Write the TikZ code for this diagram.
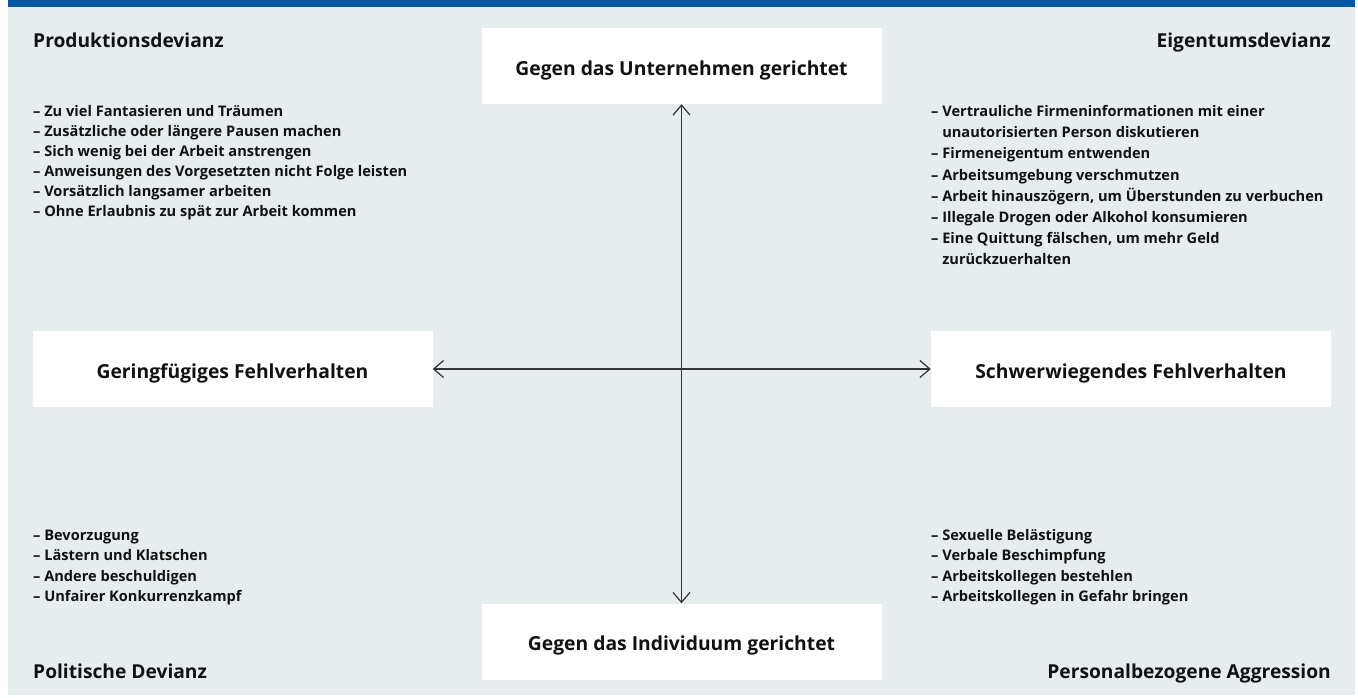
\documentclass[tikz,border=0pt]{standalone}
\usepackage{fontspec}
\setmainfont{Open Sans}
\usetikzlibrary{arrows.meta}
\definecolor{bg}{HTML}{E7ECEF}
\definecolor{bluebar}{HTML}{0356A6}
\definecolor{ink}{HTML}{111111}
\definecolor{axiscol}{HTML}{333333}
\begin{document}
\begin{tikzpicture}[x=1pt,y=-1pt,
  box/.style={fill=white, minimum width=400pt, minimum height=76pt, inner sep=0pt,
    text height=18pt, text depth=0pt,
    font=\fontsize{19.3}{22}\selectfont\bfseries, text=ink},
  corner/.style={font=\fontsize{19.2}{22}\selectfont\bfseries, text=ink, inner sep=0pt},
  itemlist/.style={font=\fontsize{14.6}{20}\selectfont\bfseries, text=ink, inner sep=0pt, anchor=base west},
  axisline/.style={draw=axiscol, line width=1.2pt,
    {Straight Barb[length=10pt,width=17pt]}-{Straight Barb[length=10pt,width=17pt]}}
]
\useasboundingbox (0,0) rectangle (1358,697);
\fill[bg] (8,7) rectangle (1355,695);
\fill[bluebar] (8,0) rectangle (1355,7);

\node[box] (top) at (681.5,66) {Gegen das Unternehmen gerichtet};
\node[box] (bottom) at (681.5,641.5) {Gegen das Individuum gerichtet};
\node[box] (left) at (232.5,369) {Geringfügiges Fehlverhalten};
\node[box] (right) at (1131,369) {Schwerwiegendes Fehlverhalten};

\draw[axisline] (top.south) -- (bottom.north);
\draw[axisline] (left.east) -- (right.west);

\node[corner, anchor=base west] (prod) at (33,47) {Produktionsdevianz};
\node[corner, anchor=base east] (eig) at (1331,47) {Eigentumsdevianz};
\node[corner, anchor=base west] (pol) at (33,678) {Politische Devianz};
\node[corner, anchor=base east] (pers) at (1331,678) {Personalbezogene Aggression};

\node[itemlist] (l1) at (33,116.5) {\vtop{\baselineskip=20pt
  \hbox{– Zu viel Fantasieren und Träumen}
  \hbox{– Zusätzliche oder längere Pausen machen}
  \hbox{– Sich wenig bei der Arbeit anstrengen}
  \hbox{– Anweisungen des Vorgesetzten nicht Folge leisten}
  \hbox{– Vorsätzlich langsamer arbeiten}
  \hbox{– Ohne Erlaubnis zu spät zur Arbeit kommen}}};

\node[itemlist] (l2) at (931,116.5) {\vtop{\baselineskip=21.2pt
  \hbox{– Vertrauliche Firmeninformationen mit einer}
  \hbox{\hphantom{– }unautorisierten Person diskutieren}
  \hbox{– Firmeneigentum entwenden}
  \hbox{– Arbeitsumgebung verschmutzen}
  \hbox{– Arbeit hinauszögern, um Überstunden zu verbuchen}
  \hbox{– Illegale Drogen oder Alkohol konsumieren}
  \hbox{– Eine Quittung fälschen, um mehr Geld}
  \hbox{\hphantom{– }zurückzuerhalten}}};

\node[itemlist] (l3) at (33,540.5) {\vtop{\baselineskip=20.3pt
  \hbox{– Bevorzugung}
  \hbox{– Lästern und Klatschen}
  \hbox{– Andere beschuldigen}
  \hbox{– Unfairer Konkurrenzkampf}}};

\node[itemlist] (l4) at (931,540.5) {\vtop{\baselineskip=20.3pt
  \hbox{– Sexuelle Belästigung}
  \hbox{– Verbale Beschimpfung}
  \hbox{– Arbeitskollegen bestehlen}
  \hbox{– Arbeitskollegen in Gefahr bringen}}};
\end{tikzpicture}
\end{document}
